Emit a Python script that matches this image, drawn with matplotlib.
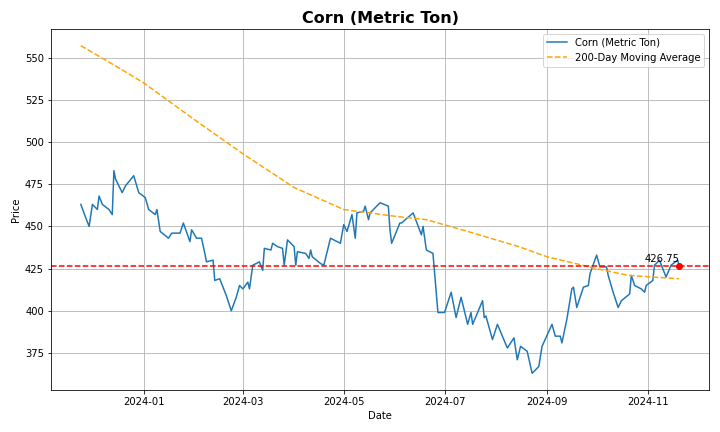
import matplotlib

matplotlib.use("Agg")

import matplotlib.pyplot as plt
import pandas as pd

price_dates = [
    "2023-11-24", "2023-11-27", "2023-11-29", "2023-12-01", "2023-12-04", "2023-12-05",
    "2023-12-07", "2023-12-11", "2023-12-13", "2023-12-14", "2023-12-15", "2023-12-19",
    "2023-12-21", "2023-12-26", "2023-12-29", "2024-01-02", "2024-01-04", "2024-01-08",
    "2024-01-09", "2024-01-11", "2024-01-16", "2024-01-18", "2024-01-23", "2024-01-25",
    "2024-01-29", "2024-01-30", "2024-02-02", "2024-02-05", "2024-02-07", "2024-02-08",
    "2024-02-12", "2024-02-13", "2024-02-16", "2024-02-20", "2024-02-23", "2024-02-26",
    "2024-02-28", "2024-03-01", "2024-03-04", "2024-03-05", "2024-03-07", "2024-03-11",
    "2024-03-13", "2024-03-14", "2024-03-18", "2024-03-19", "2024-03-22", "2024-03-25",
    "2024-03-26", "2024-03-28", "2024-04-01", "2024-04-02", "2024-04-03", "2024-04-08",
    "2024-04-10", "2024-04-11", "2024-04-12", "2024-04-17", "2024-04-19", "2024-04-23",
    "2024-04-29", "2024-05-01", "2024-05-03", "2024-05-06", "2024-05-08", "2024-05-09",
    "2024-05-13", "2024-05-14", "2024-05-16", "2024-05-17", "2024-05-23", "2024-05-28",
    "2024-05-29", "2024-05-30", "2024-06-04", "2024-06-05", "2024-06-12", "2024-06-17",
    "2024-06-18", "2024-06-20", "2024-06-24", "2024-06-27", "2024-07-01", "2024-07-05",
    "2024-07-08", "2024-07-11", "2024-07-15", "2024-07-17", "2024-07-18", "2024-07-24",
    "2024-07-25", "2024-07-26", "2024-07-30", "2024-08-02", "2024-08-08", "2024-08-12",
    "2024-08-14", "2024-08-16", "2024-08-20", "2024-08-23", "2024-08-27", "2024-08-29",
    "2024-09-04", "2024-09-06", "2024-09-09", "2024-09-10", "2024-09-13", "2024-09-16",
    "2024-09-17", "2024-09-19", "2024-09-23", "2024-09-26", "2024-09-27", "2024-10-01",
    "2024-10-03", "2024-10-07", "2024-10-08", "2024-10-11", "2024-10-14", "2024-10-16",
    "2024-10-21", "2024-10-22", "2024-10-24", "2024-10-28", "2024-10-30", "2024-10-31",
    "2024-11-04", "2024-11-05", "2024-11-08", "2024-11-12", "2024-11-15", "2024-11-19",
    "2024-11-20",
]
price_values = [
    463, 455, 450, 463, 460, 468,
    463, 460, 457, 483, 478, 470,
    474, 480, 470, 467, 460, 457,
    460, 447, 443, 446, 446, 452,
    441, 448, 443, 443, 434, 429,
    430, 418, 419, 409, 400, 408,
    415, 413, 417, 413, 427, 429,
    424, 437, 436, 440, 438, 437,
    427, 442, 438, 427, 435, 434,
    431, 436, 432, 428, 427, 443,
    440, 451, 447, 457, 443, 458,
    459, 462, 454, 458, 464, 462,
    448, 440, 452, 452, 458, 445,
    450, 436, 434, 399, 399, 411,
    396, 408, 392, 399, 392, 406,
    396, 397, 383, 392, 378, 384,
    371, 379, 376, 363, 367, 379,
    392, 385, 385, 381, 395, 413,
    414, 402, 414, 415, 422, 433,
    426, 426, 421, 411, 402, 406,
    410, 421, 415, 413, 411, 415,
    418, 427, 430, 420, 427, 430,
    426.75,
]

ma_dates = [
    "2023-11-24", "2023-12-01", "2023-12-15", "2024-01-01", "2024-02-01", "2024-03-01",
    "2024-04-01", "2024-05-01", "2024-06-01", "2024-06-20", "2024-07-15", "2024-08-15",
    "2024-09-01", "2024-10-01", "2024-10-20", "2024-11-20",
]
ma_values = [557, 553, 545, 535, 513, 493, 473, 460, 456, 454, 447, 438, 432, 425, 421, 419]

last_price = price_values[-1]

price = pd.Series(price_values, index=pd.to_datetime(price_dates))
moving_avg = pd.Series(ma_values, index=pd.to_datetime(ma_dates))

fig, ax = plt.subplots(figsize=(10, 6), dpi=72)
ax.plot(price.index, price.values, color="#1f77b4", label="Corn (Metric Ton)")
ax.plot(moving_avg.index, moving_avg.values, color="orange", linestyle="--",
        label="200-Day Moving Average")
ax.axhline(last_price, color="red", linestyle="--")
ax.scatter([price.index[-1]], [last_price], color="red", zorder=5)
ax.annotate(f"{last_price:.2f}", (price.index[-1], last_price),
            xytext=(0, 4), textcoords="offset points", ha="right", fontsize=10)

ax.set_title("Corn (Metric Ton)", fontsize=16, fontweight="bold")
ax.set_xlabel("Date")
ax.set_ylabel("Price")
ax.set_ylim(353, 567)
ax.grid(True)
ax.legend(loc="upper right")

fig.tight_layout()
fig.savefig("out.png", dpi=72)
